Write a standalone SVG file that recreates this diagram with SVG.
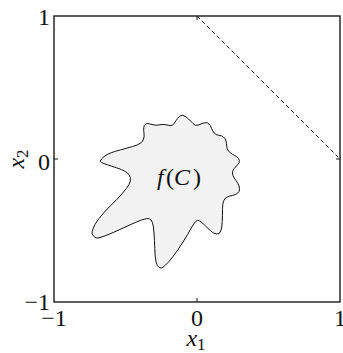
<svg xmlns="http://www.w3.org/2000/svg" width="343" height="353" viewBox="0 0 343 353">
<style>
.ax{fill:none;stroke:#1a1a1a;stroke-width:1.4}
.tk{stroke:#1a1a1a;stroke-width:1}
.lbl{font-family:"Liberation Serif","Times New Roman",serif;font-size:24px;fill:#111}
.it{font-style:italic}
</style>
<rect width="343" height="353" fill="#fff"/>
<g id="axes">
<rect class="ax" x="54" y="16" width="286" height="286"/>
<line class="tk" x1="197" y1="302" x2="197" y2="298"/>
<line class="tk" x1="197" y1="16" x2="197" y2="20"/>
<line class="tk" x1="54" y1="159" x2="58" y2="159"/>
<line class="tk" x1="340" y1="159" x2="336" y2="159"/>
<text class="lbl" x="50" y="25" text-anchor="end">1</text>
<text class="lbl" x="50" y="170" text-anchor="end">0</text>
<text class="lbl" x="50" y="310" text-anchor="end">−1</text>
<text class="lbl" x="54" y="326" text-anchor="middle">−1</text>
<text class="lbl" x="197" y="326" text-anchor="middle">0</text>
<text class="lbl" x="340" y="326" text-anchor="middle">1</text>
<text class="lbl" x="196" y="346" text-anchor="middle"><tspan class="it">x</tspan><tspan font-size="17" dy="4">1</tspan></text>
<text class="lbl" transform="translate(24,159) rotate(-90)" text-anchor="middle"><tspan class="it">x</tspan><tspan font-size="17" dy="4">2</tspan></text>
</g>
<g id="connectors">
<line x1="197" y1="16" x2="340" y2="159" stroke="#111" stroke-width="1" stroke-dasharray="4,3"/>
</g>
<g id="fC">
<path fill="#f2f2f2" stroke="#111" stroke-width="1" d="M101.5,162.5 Q99,161.5 101.5,159 Q103.5,156.5 107.25,154.5 Q111,152.5 115.5,151.25 Q120,150 126.5,148.25 Q133,146.5 137.5,144.75 Q142,143 143.25,140 Q144.5,137 144,133.5 Q143.5,130 143.75,127.5 Q144,125 145.5,124.15 Q147,123 149.5,123.9 Q152,124.5 154.5,125 Q157,125.5 160,124.75 Q163,124 166,124.75 Q169,125.5 171,125.5 Q173,125.5 174.5,123 Q176,120.5 177.5,118.5 Q179,116.5 180.5,115.75 Q182,114.5 184,115.75 Q186,116.5 188.5,119 Q191,121.5 193,123.5 Q195,126 197,125.25 Q199,125 201,124 Q203,123 205.25,122.75 Q207.5,122 209,124 Q210.5,125.5 211.5,128.25 Q212.5,131 214.25,133 Q216,135 218.75,135.25 Q221.5,135.5 223.5,137 Q225.5,138.5 226,141 Q226.5,143.5 226.75,146.25 Q227,149 228.5,151 Q230,153 232.5,154.25 Q235,155.5 237,157 Q239,158.5 239.25,160.5 Q240,162.5 237.75,164.5 Q236,166.5 234.25,168.5 Q232.5,170.5 232.5,173 Q232.5,175.5 234.25,178 Q236,180.5 237.75,183.25 Q239.5,186 239.5,188.75 Q240,191.5 237.5,193.25 Q235.5,195 232.25,195.5 Q229,196 226.75,197.25 Q224.5,198.5 223.5,201.25 Q222.5,204 222.5,209.5 Q222.5,215 222.25,221.5 Q222,228 220.75,231 Q219.5,234.5 216.75,234 Q214,234 210.5,230.75 Q207,227.5 204,224.5 Q201,221.5 199.25,220.75 Q197.5,219.5 195.75,221.5 Q194,223 191,228.5 Q188,234 183,242 Q178,250 173,256.5 Q168,263 164.75,265.75 Q161.5,269.5 159.25,267.5 Q157,266.5 156,261.75 Q155,257 154.75,248.5 Q154.5,240 154,233 Q153.5,226 152.5,222.75 Q151.5,219.5 149.25,218.75 Q147,218 141.5,220 Q136,222 128,225.75 Q120,229.5 112,233 Q104,236.5 100,237.5 Q95.5,239 93.75,236.25 Q91,234 92.75,229.5 Q94,225 99,218.5 Q104,212 110.5,205.75 Q117,199.5 122,193.75 Q127,188 129,184.5 Q131,181 130.25,177.5 Q129.5,174 125.75,171.75 Q122,169.5 116.5,167.75 Q111,166 107.25,164.75 Q103.5,163.5 101.5,162.5 Z"/>
<text class="lbl" y="185"><tspan class="it" x="157">f</tspan><tspan x="166">(</tspan><tspan class="it" x="174">C</tspan><tspan x="193">)</tspan></text>
</g>
</svg>
